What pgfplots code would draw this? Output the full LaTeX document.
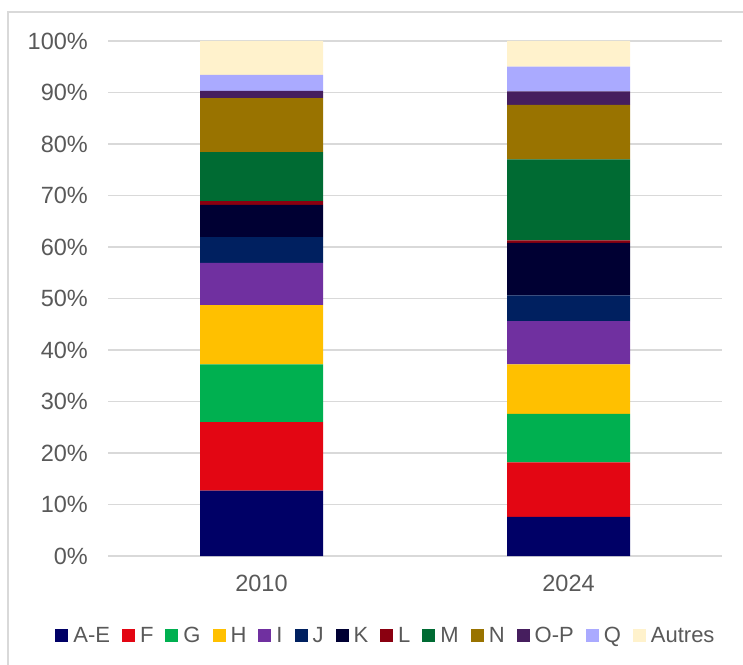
\documentclass[border=0pt]{standalone}
\usepackage{fontspec}
\setmainfont{Liberation Sans}
\usepackage{pgfplots}
\pgfplotsset{compat=1.18}
\definecolor{txt}{HTML}{595959}
\definecolor{gridc}{HTML}{D9D9D9}
\definecolor{cAE}{HTML}{000066}
\definecolor{cF}{HTML}{E30613}
\definecolor{cG}{HTML}{00B050}
\definecolor{cH}{HTML}{FFC000}
\definecolor{cI}{HTML}{7030A0}
\definecolor{cJ}{HTML}{002060}
\definecolor{cK}{HTML}{000033}
\definecolor{cL}{HTML}{8A0010}
\definecolor{cM}{HTML}{006B33}
\definecolor{cN}{HTML}{997300}
\definecolor{cOP}{HTML}{461E5E}
\definecolor{cQ}{HTML}{AAAAFF}
\definecolor{cAu}{HTML}{FFF2CC}
\begin{document}
\begin{tikzpicture}[x=1pt,y=1pt]
\useasboundingbox (0,0) rectangle (743,664);
% chart area border: only its left and top edges fall inside the picture
\draw[gridc, line width=1.2pt] (8,-2) -- (8,652) -- (745,652);
\begin{axis}[
  at={(108pt,108pt)}, anchor=south west,
  scale only axis, width=614pt, height=515pt,
  ybar stacked, bar width=123pt,
  xmin=-0.5, xmax=1.5, ymin=0, ymax=100,
  xtick={0,1}, xticklabels={2010,2024},
  ytick={0,10,...,100},
  yticklabels={0\%,10\%,20\%,30\%,40\%,50\%,60\%,70\%,80\%,90\%,100\%},
  major tick length=0pt,
  axis line style={draw=none},
  ymajorgrids, major grid style={gridc, line width=1.2pt},
  tick label style={font=\fontsize{23.5}{27}\selectfont, text=txt, inner sep=0pt},
  yticklabel style={xshift=-20pt},
  xticklabel style={yshift=-19pt},
  legend columns=-1,
  legend image code/.code={\fill[#1] (0pt,-6.5pt) rectangle (13pt,6.5pt);},
  legend style={draw=none, fill=none, at={(0.451,-0.155)}, anchor=center,
    font=\fontsize{22}{26}\selectfont, text=txt, inner sep=0pt,
    nodes={inner xsep=0pt, inner ysep=0pt},
    /tikz/every odd column/.append style={column sep=5pt},
    /tikz/every even column/.append style={column sep=12pt}},
]
\addplot[fill=cAE, draw=none] coordinates {(0,12.7) (1,7.6)};
\addplot[fill=cF, draw=none] coordinates {(0,13.3) (1,10.6)};
\addplot[fill=cG, draw=none] coordinates {(0,11.2) (1,9.4)};
\addplot[fill=cH, draw=none] coordinates {(0,11.5) (1,9.6)};
\addplot[fill=cI, draw=none] coordinates {(0,8.2) (1,8.4)};
\addplot[fill=cJ, draw=none] coordinates {(0,5.0) (1,5.0)};
\addplot[fill=cK, draw=none] coordinates {(0,6.3) (1,10.2)};
\addplot[fill=cL, draw=none] coordinates {(0,0.7) (1,0.5)};
\addplot[fill=cM, draw=none] coordinates {(0,9.5) (1,15.7)};
\addplot[fill=cN, draw=none] coordinates {(0,10.5) (1,10.6)};
\addplot[fill=cOP, draw=none] coordinates {(0,1.4) (1,2.6)};
\addplot[fill=cQ, draw=none] coordinates {(0,3.1) (1,4.8)};
\addplot[fill=cAu, draw=none] coordinates {(0,6.6) (1,5.0)};
\legend{A-E,F,G,H,I,J,K,L,M,N,O-P,Q,Autres}
\end{axis}
\end{tikzpicture}
\end{document}
